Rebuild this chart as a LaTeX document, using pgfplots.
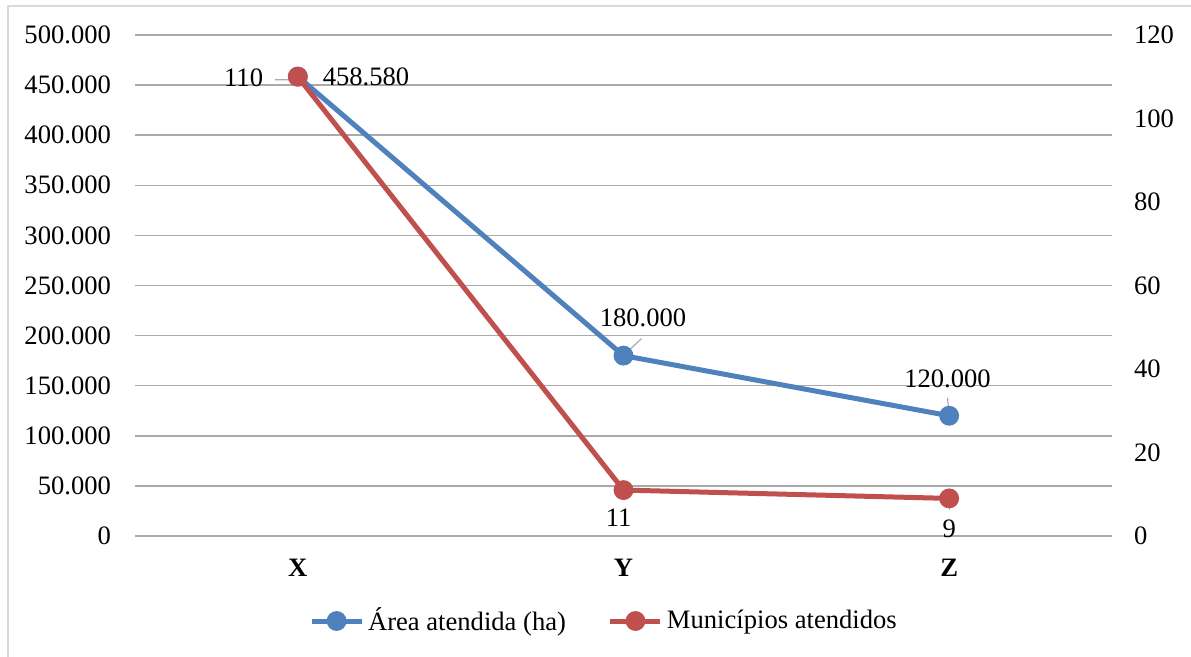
\documentclass[border=0pt]{standalone}
\usepackage{pgfplots}
\pgfplotsset{compat=1.18}
\usepackage{fontspec}
\setmainfont{Liberation Serif}
\definecolor{sblue}{RGB}{79,129,189}
\definecolor{sred}{RGB}{192,80,77}
\definecolor{gridc}{RGB}{170,170,170}
\definecolor{borderc}{RGB}{217,217,217}
\begin{document}
\begin{tikzpicture}[x=1pt,y=1pt]
\useasboundingbox (0,0) rectangle (595.5,328.5);
\draw[borderc, line width=1pt] (4,0) -- (4,325.5) -- (595.5,325.5);
\pgfplotsset{
  common/.style={
    at={(67.5pt,60.5pt)}, anchor=south west,
    scale only axis, width=488.5pt, height=250.5pt,
    xmin=-0.5, xmax=2.5,
    axis line style={draw=none},
    major tick length=0pt,
    font=\fontsize{13.3}{15.5}\selectfont,
    /pgf/number format/fixed,
    /pgf/number format/assume math mode=true,
    /pgf/number format/1000 sep={.},
    scaled y ticks=false,
    clip=false,
  },
  ser/.style={line width=2.5pt, mark=*, mark size=3.7pt, mark options={draw=none}},
}
\begin{axis}[common,
  ymin=0, ymax=500000,
  ytick={0,50000,...,500000},
  ymajorgrids, major grid style={gridc, line width=0.75pt},
  xtick={0,1,2}, xticklabels={\textbf{X},\textbf{Y},\textbf{Z}},
  xticklabel style={yshift=-8pt},
  yticklabel style={xshift=-8.5pt},
  legend style={at={(0.481,-0.1697)}, anchor=center, draw=none, fill=none,
    legend columns=2, font=\fontsize{13.3}{15.5}\selectfont,
    /tikz/every even column/.append style={column sep=19pt},
    inner sep=0pt},
  legend cell align=left,
  legend image code/.code={\draw[mark repeat=2,mark phase=2,#1] plot coordinates {(0pt,0pt) (12.5pt,0pt) (25pt,0pt)};},
]
\addplot[sblue, ser] coordinates {(0,458580) (1,180000) (2,120000)};
\addlegendentry{Área atendida (ha)}
\addlegendimage{sred, ser}
\addlegendentry{Municípios atendidos}
\draw[gridc, line width=0.6pt] (axis cs:1,180000) -- (axis cs:1.055,197000);
\node[anchor=center] at (axis cs:1.06,218000) {180.000};
\draw[gridc, line width=0.6pt] (axis cs:2,120000) -- (axis cs:1.995,138000);
\node[anchor=center] at (axis cs:1.995,157000) {120.000};
\node[anchor=west] at (axis cs:0.055,458580) {458.580};
\end{axis}
\begin{axis}[common,
  ymin=0, ymax=120,
  ytick={0,20,...,120},
  axis y line*=right,
  axis x line=none,
  yticklabel style={xshift=7.5pt},
]
\addplot[sred, ser] coordinates {(0,110) (1,11) (2,9)};
\draw[gridc, line width=0.6pt] (axis cs:0,110) -- (axis cs:-0.015,109.3) -- (axis cs:-0.07,109.3);
\node[anchor=east] at (axis cs:-0.085,109.7) {110};
\node[anchor=center] at (axis cs:0.985,4.4) {11};
\draw[gridc, line width=0.6pt] (axis cs:2,9) -- (axis cs:2,6.3);
\node[anchor=center] at (axis cs:2,1.7) {9};
\end{axis}
\end{tikzpicture}
\end{document}
